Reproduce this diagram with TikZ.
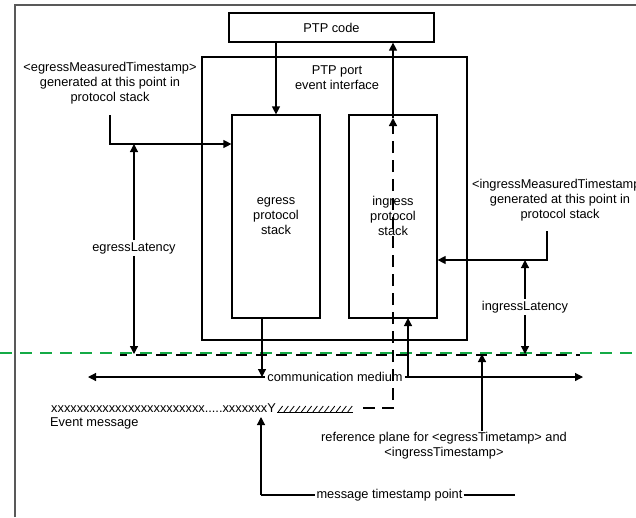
\documentclass[tikz,border=0pt]{standalone}
\usepackage{fontspec}
\setmainfont{Liberation Sans}
\usetikzlibrary{arrows.meta}
\definecolor{planegreen}{RGB}{20,170,70}
\tikzset{
  box/.style={draw, line width=1.2pt, inner sep=0pt},
  txt/.style={align=center, font=\fontsize{12.8}{15}\selectfont, inner sep=1pt},
  arr/.style={line width=1.2pt, -{Triangle[length=8pt,width=8pt]}},
  tapline/.style={line width=1.2pt},
}
\begin{document}
\begin{tikzpicture}[x=1pt,y=-1pt]
      \useasboundingbox (0,0) rectangle (636,517);
      \draw[line width=2pt, black!65] (15,517) -- (15,5) -- (636,5);
      % boxes
      \node[box, txt, minimum width=205pt, minimum height=29pt] (code) at (331.5,27.5) {PTP code};
      \node[box, minimum width=265pt, minimum height=283pt] (port) at (334.5,198.5) {};
      \node[txt] (portlbl) at (337,77.5) {PTP port\\event interface};
      \node[box, minimum width=88pt, minimum height=203pt] (egress) at (276,216.5) {};
      \node[box, minimum width=88pt, minimum height=203pt] (ingress) at (393,216.5) {};
      \node[txt] (egresslbl) at (276,216) {egress\\protocol\\stack};
      \node[txt] (ingresslbl) at (393,216) {ingress\\protocol\\stack};
      % labels
      \node[txt] (egmeas) at (110,83) {<egressMeasuredTimestamp>\\generated at this point in\\protocol stack};
      \node[txt] (inmeas) at (560,200.5) {<ingressMeasuredTimestamp>\\generated at this point in\\protocol stack};
      \node[txt, inner sep=2pt] (eglat) at (134,248) {egressLatency};
      \node[txt, inner sep=2pt] (inlat) at (525,307) {ingressLatency};
      \node[txt, inner sep=2pt] (medium) at (335,377) {communication medium};
      \node[txt, anchor=west, inner sep=0pt] (msg) at (51,408) {xxxxxxxxxxxxxxxxxxxxxxxx.....xxxxxxxY};
      \node[txt, anchor=west, inner sep=0pt] (evmsg) at (50,423) {Event message};
      \node[txt] (refplane) at (444,446) {reference plane for <egressTimetamp> and\\<ingressTimestamp>};
      \node[txt] (tspoint) at (389.5,495) {message timestamp point};
      % points
      \coordinate (egtop) at (110,115);
      \coordinate (egbend) at (110,144);
      \coordinate (egjoin) at (134,144);
      \coordinate (intop) at (547,231);
      \coordinate (inbend) at (547,260);
      \coordinate (injoin) at (525,260);
      \coordinate (egplane) at (134,354);
      \coordinate (inplane) at (525,354);
      \coordinate (refpt) at (482,354);
      \coordinate (egout) at (262,318);
      \coordinate (egmed) at (262,377);
      \coordinate (inin) at (408,318);
      \coordinate (inmed) at (408,377);
      \coordinate (medL) at (88,377);
      \coordinate (medR) at (583,377);
      \coordinate (dashA) at (363,408);
      \coordinate (dashB) at (393,408);
      \coordinate (dashC) at (393,118);
      \coordinate (ytick) at (261,417);
      \coordinate (tsbend) at (261,495);
      \coordinate (tsend) at (515,495);
      % hatched tail of the message
      \draw[line width=0.8pt] ([xshift=1pt,yshift=-4pt]msg.east) -- ++(76,0);
      \foreach \i in {0,...,12}
        \draw[line width=0.8pt] ([xshift=2pt+\i*5.8pt,yshift=-4pt]msg.east) -- ++(4.5,-6);
      % reference plane
      \draw[line width=1.5pt, dash pattern=on 11pt off 9pt, dash phase=4pt] (120,355) -- (580,355);
      \draw[line width=2.5pt, planegreen, dash pattern=on 12pt off 8pt] (0,353) -- (636,353);
      % connectors
      \begin{scope}[tapline]
        \draw[arr] (code.south -| egress.north) -- (egress.north);
        \draw[arr] (egtop) -- (egbend) -- (egbend -| egress.west);
        \draw[arr] (intop) -- (inbend) -- (inbend -| ingress.east);
        \draw[arr] (eglat.north) -- (egjoin);
        \draw[arr] (eglat.south) -- (egplane);
        \draw[arr] (inlat.north) -- (injoin);
        \draw[arr] (inlat.south) -- (inplane);
        \draw[arr] (egout) -- (egmed);
        \draw[arr] (inmed) -- (inin);
        \draw[arr] (medium.west) -- (medL);
        \draw[arr] (medium.east) -- (medR);
        \draw[arr] (refplane.north -| refpt) -- (refpt);
        \draw[arr, line width=1.5pt, dash pattern=on 12pt off 7pt] (dashA) -- (dashB) -- (dashC);
        \draw[arr] (dashC) -- (dashC |- code.south);
        \draw[arr] (tsbend) -- (ytick);
        \draw (tsbend) -- (tspoint.west);
        \draw (tspoint.east) -- (tsend);
      \end{scope}
    \end{tikzpicture}
\end{document}
